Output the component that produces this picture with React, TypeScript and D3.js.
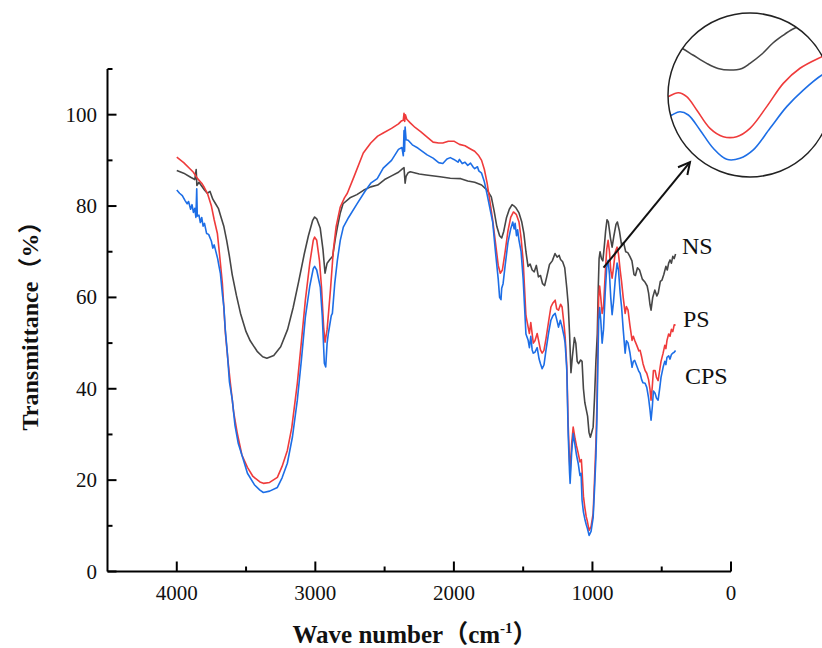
import React from "react";
import * as d3 from "d3";

type P = [number, number];

const nsData: P[] = [
  [4000, 87.8], [3950, 87.2], [3900, 86.3], [3870, 85.8], [3860, 88.0], [3855, 84.5], [3840, 85.2], [3800, 83.5], [3780, 82.8], [3760, 83.2], [3740, 81.5], [3720, 80.5], [3700, 79.5], [3680, 77.5], [3660, 75.5], [3640, 72.5], [3620, 69], [3600, 65], [3570, 60.5], [3540, 56.5], [3500, 52.5], [3470, 50.5], [3420, 48.2], [3380, 47], [3350, 46.7], [3300, 47.3], [3250, 49.2], [3200, 53], [3160, 57.8], [3120, 63.5], [3080, 69.5], [3050, 73.5], [3020, 76.8], [3005, 77.6], [2990, 77.2], [2965, 75.2], [2945, 70.5], [2930, 65.3], [2915, 67.5], [2895, 68.3], [2875, 69], [2855, 73], [2840, 75.5], [2820, 78.5], [2800, 80.5], [2750, 81.8], [2700, 82.5], [2650, 83.5], [2600, 84.2], [2550, 84.6], [2500, 85.8], [2450, 86.6], [2400, 87.4], [2370, 88.2], [2360, 88.4], [2352, 85], [2345, 86.5], [2330, 87.3], [2315, 87.5], [2250, 87], [2200, 86.8], [2100, 86.4], [2026, 86.1], [1950, 86], [1900, 85.5], [1850, 85.2], [1800, 84.6], [1760, 83.5], [1730, 82], [1710, 79], [1690, 75.5], [1670, 73.5], [1655, 73], [1640, 74.5], [1620, 77.5], [1600, 79.3], [1580, 80.3], [1565, 80], [1550, 79.5], [1530, 78.5], [1510, 76.5], [1495, 74], [1480, 70], [1465, 66.8], [1450, 67.3], [1435, 66], [1420, 65.6], [1405, 67], [1390, 64.5], [1375, 64.8], [1360, 63], [1345, 62.6], [1330, 64.5], [1310, 67.2], [1290, 68], [1270, 69.6], [1255, 68.8], [1240, 69.2], [1230, 68.3], [1215, 67.8], [1200, 66.5], [1185, 62], [1175, 58.5], [1165, 52], [1155, 43.5], [1145, 47], [1130, 51.2], [1120, 50], [1110, 46], [1100, 45.5], [1085, 46.3], [1075, 46], [1065, 40], [1055, 37], [1045, 35.5], [1035, 34], [1025, 30.5], [1015, 29.4], [1005, 30.5], [995, 31.6], [985, 38], [975, 46], [965, 52], [958, 62], [952, 68.5], [945, 70], [935, 68.5], [925, 68], [915, 71], [905, 74.5], [895, 77], [885, 76.5], [870, 73], [858, 71], [845, 73.5], [830, 76], [820, 76.5], [805, 74.5], [790, 71.5], [775, 72], [760, 70], [745, 69.8], [730, 69], [715, 68], [700, 65], [690, 64.8], [675, 66.5], [660, 66], [640, 64], [620, 63.3], [605, 62.5], [595, 61], [585, 58.5], [577, 57.2], [565, 60], [550, 61.6], [535, 60.3], [525, 61], [510, 63.5], [498, 63.8], [485, 65], [470, 66.8], [460, 66], [450, 67.5], [440, 68.2], [430, 67.5], [420, 69], [410, 68.5], [400, 69.5],
];

const psData: P[] = [
  [4000, 90.7], [3950, 89.5], [3900, 88], [3880, 87.4], [3850, 86], [3820, 85], [3800, 84], [3779, 82.8], [3750, 80], [3730, 77], [3707, 74], [3690, 69], [3671, 63.1], [3649, 52.1], [3630, 46], [3613, 41.2], [3590, 35], [3563, 30.2], [3530, 25.5], [3490, 22.8], [3450, 20.8], [3400, 19.6], [3375, 19.3], [3330, 19.5], [3274, 20.6], [3240, 23], [3202, 26.5], [3170, 31.5], [3130, 41.2], [3100, 50.5], [3072, 59.4], [3040, 67.5], [3015, 72.5], [3005, 73.2], [2990, 72.5], [2970, 68], [2955, 62], [2940, 53.5], [2930, 50.2], [2915, 53], [2905, 56.5], [2890, 62], [2870, 70.3], [2850, 75.5], [2820, 79.8], [2790, 81.8], [2769, 82.8], [2720, 86.5], [2654, 91.6], [2600, 93.8], [2550, 95.3], [2510, 96], [2450, 97], [2400, 98], [2380, 98.6], [2365, 98.8], [2360, 100.3], [2355, 98.5], [2350, 100.0], [2340, 99], [2315, 98.2], [2280, 97.2], [2240, 96.3], [2193, 95.1], [2150, 94], [2110, 93.8], [2080, 93.8], [2040, 94.2], [2000, 94.2], [1960, 93.5], [1920, 93.2], [1880, 92.5], [1850, 92], [1820, 91], [1800, 90], [1780, 88], [1760, 85], [1740, 81], [1720, 76.9], [1700, 72], [1680, 67], [1665, 65.3], [1650, 66], [1630, 70], [1610, 74.5], [1590, 77.5], [1570, 78.7], [1550, 78.2], [1530, 76.5], [1515, 73], [1500, 68], [1490, 62], [1480, 56], [1464, 53.5], [1455, 52.1], [1445, 54.5], [1435, 52], [1427, 50], [1415, 50.5], [1399, 52.1], [1385, 50], [1375, 48.5], [1363, 47.8], [1350, 48.4], [1335, 51], [1315, 55], [1300, 57.9], [1285, 58.8], [1269, 59.4], [1258, 57.5], [1245, 57.2], [1230, 58.5], [1219, 57.9], [1205, 54], [1197, 51.3], [1185, 45], [1175, 32], [1165, 24], [1161, 21.5], [1150, 28], [1139, 31.6], [1125, 29], [1115, 27.5], [1103, 25.9], [1090, 24], [1080, 24.5], [1075, 22.1], [1065, 16.5], [1055, 14], [1045, 12], [1038, 11.2], [1024, 9], [1010, 9.8], [995, 12.7], [985, 20], [975, 28], [968, 36], [960, 52], [955, 60], [948, 62.5], [940, 60], [930, 56.5], [920, 58], [908, 65], [897, 70.5], [887, 72.5], [877, 70], [868, 66], [858, 64.2], [848, 66.5], [835, 70], [822, 71], [812, 69.5], [800, 66], [790, 63.5], [778, 60], [764, 56.5], [755, 58], [743, 57.2], [730, 54], [714, 50.6], [705, 51.5], [695, 50.6], [680, 49.5], [665, 48.3], [656, 48.4], [645, 47], [635, 45.5], [620, 44], [608, 43.4], [595, 42], [585, 40], [577, 37.5], [568, 40.5], [560, 44], [548, 44], [538, 42.5], [526, 41.8], [515, 44], [505, 46], [490, 47.8], [478, 49.5], [470, 48.8], [462, 50.6], [450, 52], [440, 51.5], [430, 53], [420, 52.5], [410, 54], [400, 53.9],
];

const cpsData: P[] = [
  [4000, 83.5], [3980, 82.8], [3960, 82.3], [3940, 81.2], [3925, 80.5], [3915, 81], [3900, 79.3], [3890, 80.3], [3880, 78.6], [3870, 79.5], [3862, 77.5], [3856, 83.8], [3852, 77.8], [3840, 78], [3830, 76.4], [3820, 77.5], [3810, 75.6], [3800, 76.2], [3785, 74], [3770, 73.8], [3750, 72.3], [3740, 70.8], [3730, 71.5], [3715, 69.7], [3705, 68.5], [3695, 66.8], [3685, 65.2], [3670, 60.5], [3660, 57.9], [3650, 53], [3635, 47.8], [3620, 41.5], [3599, 37.5], [3580, 32], [3556, 28], [3520, 24.5], [3490, 21.5], [3440, 19], [3400, 17.8], [3375, 17.3], [3330, 17.6], [3274, 18.4], [3240, 20.5], [3202, 23.7], [3165, 29.5], [3130, 37.5], [3100, 46.5], [3072, 55.7], [3040, 62.5], [3015, 66.3], [3005, 66.8], [2990, 66], [2964, 62.2], [2950, 56], [2935, 45.6], [2925, 44.8], [2915, 50], [2906, 52.1], [2885, 56], [2877, 56.5], [2860, 63], [2841, 68.1], [2820, 72.5], [2798, 75.4], [2760, 77.5], [2697, 80.6], [2640, 83.3], [2600, 85], [2553, 86], [2510, 88.3], [2450, 90], [2400, 92.4], [2375, 92.8], [2365, 91], [2360, 96.5], [2356, 92], [2352, 97.3], [2345, 94.5], [2330, 94.4], [2300, 93.4], [2260, 92.7], [2193, 91.2], [2150, 90.5], [2110, 89.5], [2080, 89.3], [2050, 90.3], [2026, 90.6], [2000, 90.2], [1970, 89.6], [1960, 90.2], [1940, 89.3], [1920, 89.6], [1900, 88.9], [1880, 89.4], [1860, 88.5], [1850, 88.2], [1830, 88.6], [1820, 87.7], [1800, 87.2], [1780, 85.3], [1760, 82.5], [1740, 79.5], [1720, 76.5], [1700, 70], [1680, 64], [1670, 60], [1660, 59.5], [1655, 62], [1645, 63], [1630, 67], [1610, 72], [1590, 75], [1575, 76.5], [1565, 75], [1558, 76.2], [1548, 73.5], [1540, 74.8], [1530, 72.5], [1515, 70], [1500, 64], [1490, 58], [1480, 52], [1464, 50.6], [1455, 49], [1445, 51.5], [1435, 48.5], [1427, 47.8], [1415, 48], [1399, 49], [1385, 46.5], [1375, 45.5], [1363, 44.4], [1350, 45.2], [1335, 48.5], [1315, 52.5], [1300, 55], [1285, 56], [1269, 56.5], [1255, 54.8], [1245, 53.5], [1232, 55], [1219, 53.5], [1205, 51.5], [1197, 50], [1185, 44], [1175, 30], [1165, 21.5], [1161, 19.3], [1150, 26], [1139, 30.2], [1125, 27.5], [1115, 25.5], [1103, 23.7], [1090, 21], [1082, 21.5], [1075, 15.6], [1065, 13], [1055, 11.5], [1045, 10.3], [1038, 9.6], [1024, 7.9], [1010, 8.8], [995, 11.8], [985, 18], [975, 25], [968, 33], [960, 47], [955, 55], [948, 57.8], [940, 55], [930, 50], [920, 53], [908, 61], [897, 66.5], [887, 68.1], [877, 65], [868, 60], [858, 56.2], [848, 59], [835, 64], [822, 67.5], [812, 66], [800, 61], [790, 58], [778, 53], [764, 47.8], [755, 50.5], [743, 50], [730, 48], [714, 44.7], [705, 46], [695, 46.2], [680, 45], [665, 43.8], [656, 43.4], [645, 42], [635, 41.3], [620, 41.2], [608, 40.3], [595, 38], [585, 35.5], [577, 33.1], [568, 36], [560, 39.5], [548, 39], [538, 38], [526, 37.5], [515, 40], [505, 42.5], [490, 44.7], [478, 46], [470, 45.3], [462, 46.9], [450, 47.2], [440, 46.5], [430, 47.5], [420, 47.8], [410, 48], [400, 48.4],
];

// magnified inset (arbitrary units 0..100 in both directions)
const insetNS: P[] = [[-2, 84], [8.5, 78.5], [15.2, 74.4], [23.6, 69.3], [30.5, 66.2], [37.8, 65.2], [45.1, 66.2], [50, 69.3], [57.3, 75], [64, 81.7], [70.1, 86.3], [76.2, 90.2], [83.5, 93.3], [92, 97]];
const insetPS: P[] = [[-3, 47], [0.2, 49.0], [6.3, 51.4], [11.4, 49.0], [17.5, 40.9], [25.6, 29.7], [33.7, 24.6], [41.9, 24.6], [50, 29.7], [60.2, 42.9], [70.3, 57.1], [80.5, 66.3], [93.9, 73.4], [102, 77]];
const insetCPS: P[] = [[-3, 35], [2.3, 37.8], [7.3, 39.8], [12.4, 37.8], [19.5, 28.7], [27.6, 17.5], [35.8, 10.8], [43.9, 11.4], [52, 16.5], [62.2, 29.7], [72.4, 42.9], [82.5, 53], [93.9, 62.2], [102, 66]];

const xMajorTicks = [4000, 3000, 2000, 1000, 0];
const xMinorTicks = [3500, 2500, 1500, 500];
const yMajorTicks = [0, 20, 40, 60, 80, 100];
const yMinorTicks = [10, 30, 50, 70, 90, 110];

const seriesLabels = [
  { name: "NS", y: 254, x: 682 },
  { name: "PS", y: 327, x: 683 },
  { name: "CPS", y: 384, x: 685 },
];
const arrowStart: P = [920, 66.5];
const arrowEnd: P = [296, 89.6];

const COLORS = { NS: "#464646", PS: "#ef3b3b", CPS: "#1d6ee6" };
const SERIF = "'Liberation Serif', 'Times New Roman', 'Noto Sans CJK SC', serif";

export default function App() {
  const W = 822, H = 648;
  const left = 107.5, right = 731, top = 69, bottom = 571.5;
  const x = d3.scaleLinear().domain([4500, 0]).range([left, right]);
  const y = d3.scaleLinear().domain([0, 110]).range([bottom, top]);
  const line = d3.line<P>().x((d) => x(d[0])).y((d) => y(d[1]));

  const cx = 750, cy = 95, r = 82;
  const ix = d3.scaleLinear().domain([0, 100]).range([cx - r, cx + r]);
  const iy = d3.scaleLinear().domain([0, 100]).range([cy + r, cy - r]);
  const iline = d3.line<P>().x((d) => ix(d[0])).y((d) => iy(d[1])).curve(d3.curveCatmullRom);

  const series = [
    { key: "NS", data: nsData },
    { key: "PS", data: psData },
    { key: "CPS", data: cpsData },
  ];

  const ax0 = x(arrowStart[0]), ay0 = y(arrowStart[1]);
  const ax1 = x(arrowEnd[0]), ay1 = y(arrowEnd[1]);
  const ang = Math.atan2(ay1 - ay0, ax1 - ax0);
  const hl = 13, ha = Math.PI / 6.5;
  const head = `M${ax1 - hl * Math.cos(ang - ha)},${ay1 - hl * Math.sin(ang - ha)} L${ax1},${ay1} L${ax1 - hl * Math.cos(ang + ha)},${ay1 - hl * Math.sin(ang + ha)}`;

  return (
    <svg width={W} height={H} style={{ position: "absolute", left: 0, top: 0, background: "#fff" }}>
      <rect x={0} y={0} width={W} height={H} fill="#fff" />
      <defs>
        <clipPath id="insetClip">
          <circle cx={cx} cy={cy} r={r} />
        </clipPath>
      </defs>

      {series.map((s) => (
        <path key={s.key} d={line(s.data) || ""} fill="none" stroke={(COLORS as any)[s.key]} strokeWidth={1.6} strokeLinejoin="round" />
      ))}

      {/* axes */}
      <g stroke="#000" strokeWidth={2} fill="none">
        <line x1={left} y1={bottom} x2={right} y2={bottom} />
        <line x1={left} y1={bottom} x2={left} y2={top} />
        {xMajorTicks.map((t) => (
          <line key={"xm" + t} x1={x(t)} x2={x(t)} y1={bottom} y2={bottom - 10} />
        ))}
        {xMinorTicks.map((t) => (
          <line key={"xn" + t} x1={x(t)} x2={x(t)} y1={bottom} y2={bottom - 5} />
        ))}
        {yMajorTicks.map((t) => (
          <line key={"ym" + t} x1={left} x2={left + 9} y1={y(t)} y2={y(t)} />
        ))}
        {yMinorTicks.map((t) => (
          <line key={"yn" + t} x1={left} x2={left + 5} y1={y(t)} y2={y(t)} />
        ))}
      </g>
      <g fontFamily={SERIF} fontSize={21} fill="#111">
        {xMajorTicks.map((t) => (
          <text key={"xl" + t} x={x(t)} y={600} textAnchor="middle">{t}</text>
        ))}
        {yMajorTicks.map((t) => (
          <text key={"yl" + t} x={97} y={y(t) + 7} textAnchor="end">{t}</text>
        ))}
      </g>

      {/* axis titles */}
      <text x={415} y={643} textAnchor="middle" fontFamily={SERIF} fontSize={25} fontWeight="bold" fill="#111">
        Wave number<tspan>（cm</tspan><tspan fontSize={15} dy={-10}>-1</tspan><tspan dy={10}>）</tspan>
      </text>
      <text transform={`translate(38,320) rotate(-90)`} textAnchor="middle" fontFamily={SERIF} fontSize={24} fontWeight="bold" fill="#111">
        Transmittance（%）
      </text>

      {/* series labels */}
      <g fontFamily={SERIF} fontSize={24} fill="#111">
        {seriesLabels.map((l) => (
          <text key={l.name} x={l.x} y={l.y}>{l.name}</text>
        ))}
      </g>

      {/* arrow */}
      <line x1={ax0} y1={ay0} x2={ax1} y2={ay1} stroke="#111" strokeWidth={2} />
      <path d={head} fill="none" stroke="#111" strokeWidth={2} strokeLinejoin="miter" />

      {/* inset */}
      <circle cx={cx} cy={cy} r={r} fill="#fff" />
      <g clipPath="url(#insetClip)">
        <path d={iline(insetNS) || ""} fill="none" stroke={COLORS.NS} strokeWidth={1.6} />
        <path d={iline(insetPS) || ""} fill="none" stroke={COLORS.PS} strokeWidth={1.6} />
        <path d={iline(insetCPS) || ""} fill="none" stroke={COLORS.CPS} strokeWidth={1.6} />
      </g>
      <circle cx={cx} cy={cy} r={r} fill="none" stroke="#222" strokeWidth={1.5} />
    </svg>
  );
}
